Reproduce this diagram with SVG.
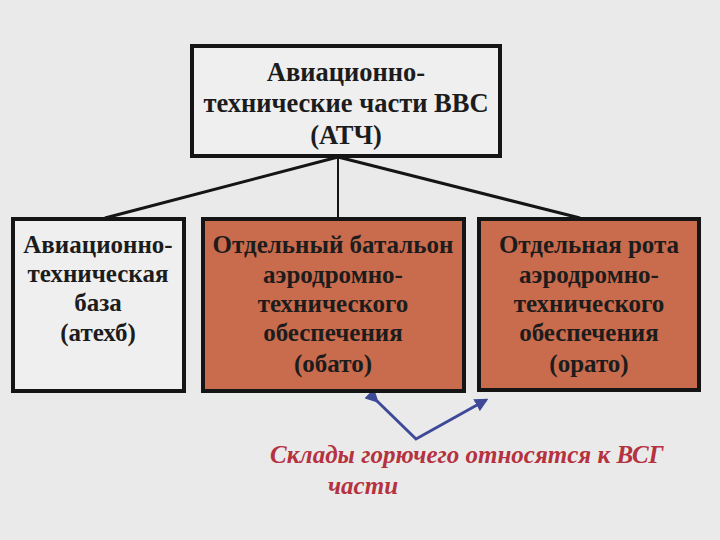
<svg xmlns="http://www.w3.org/2000/svg" width="720" height="540" viewBox="0 0 720 540">
<style>
.box{stroke:#151515;stroke-width:4}
.plain{fill:#efefef}
.org{fill:#c96b4d}
.t{font-family:"Liberation Serif","Times New Roman",serif;font-weight:bold;font-size:25px;fill:#1c1c1c;text-anchor:middle}
.big{font-size:26.5px}
.red{font-family:"Liberation Serif","Times New Roman",serif;font-weight:bold;font-style:italic;font-size:25px;fill:#b5323f}
.conn{stroke:#151515;stroke-width:3;fill:none}
</style>
<defs>
<marker id="ah" viewBox="0 0 10 10" refX="8" refY="5" markerWidth="4.5" markerHeight="4.5" orient="auto">
<path d="M0,0 L10,5 L0,10 z" fill="#3e4a98"/>
</marker>
</defs>
<rect width="720" height="540" fill="#eaeaea"/>
<g id="connectors">
<line class="conn" x1="338" y1="157" x2="105" y2="218"/>
<line class="conn" x1="338" y1="157" x2="338" y2="218" style="stroke-width:2"/>
<line class="conn" x1="338" y1="157" x2="580" y2="218"/>
<polyline points="377,401 416,439 486,400" fill="none" stroke="#3e4a98" stroke-width="3" marker-start="url(#ah)" marker-end="url(#ah)"/>
</g>
<g id="atch">
<rect class="box plain" x="192" y="46" width="308" height="110"/>
<text class="t big" x="346" y="81">Авиационно-</text>
<text class="t big" x="346" y="112">технические части ВВС</text>
<text class="t big" x="346" y="144">(АТЧ)</text>
</g>
<g id="atehb">
<rect class="box plain" x="13" y="219" width="171" height="172"/>
<text class="t" x="98" y="253">Авиационно-</text>
<text class="t" x="98" y="282">техническая</text>
<text class="t" x="98" y="311">база</text>
<text class="t" x="98" y="341">(атехб)</text>
</g>
<g id="obato">
<rect class="box org" x="203" y="219" width="261" height="172"/>
<text class="t" x="333" y="253">Отдельный батальон</text>
<text class="t" x="333" y="283">аэродромно-</text>
<text class="t" x="333" y="312">технического</text>
<text class="t" x="333" y="341">обеспечения</text>
<text class="t" x="333" y="372">(обато)</text>
</g>
<g id="orato">
<rect class="box org" x="479" y="219" width="220" height="171"/>
<text class="t" x="589" y="253">Отдельная рота</text>
<text class="t" x="589" y="283">аэродромно-</text>
<text class="t" x="589" y="312">технического</text>
<text class="t" x="589" y="341">обеспечения</text>
<text class="t" x="589" y="372">(орато)</text>
</g>
<g id="note">
<text class="red" x="270" y="463">Склады горючего относятся к ВСГ</text>
<text class="red" x="328" y="494">части</text>
</g>
</svg>
